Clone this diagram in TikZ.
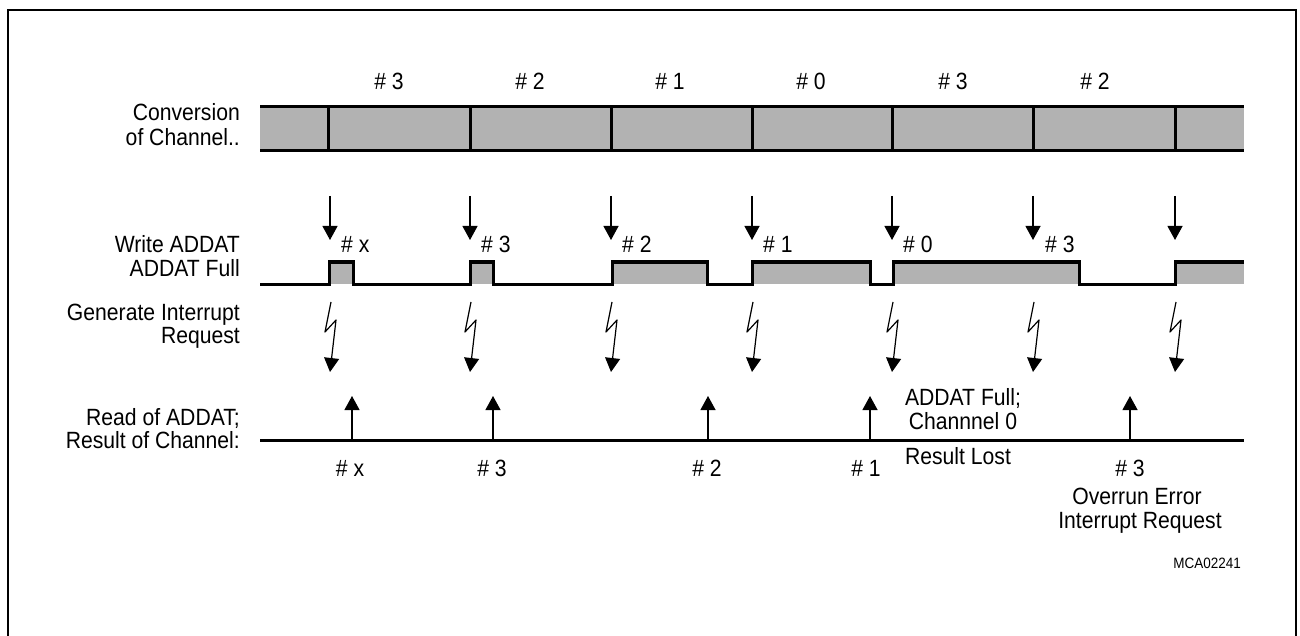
\documentclass[tikz,border=0pt]{standalone}
\usepackage{fontspec}
\setmainfont{Liberation Sans}[FakeStretch=0.9]
\usetikzlibrary{arrows.meta}
\definecolor{barfill}{gray}{0.7}
\tikzset{
  lbl/.style={font=\fontsize{23.5}{28}\selectfont, inner sep=0pt, anchor=base},
  side/.style={lbl, anchor=base east},
  heavy/.style={line width=3pt},
  arr/.style={line width=1.2pt, line join=round, -{Triangle[length=14pt,width=15pt]}},
}
\begin{document}
\begin{tikzpicture}[x=1pt,y=-1pt]
\useasboundingbox (0,0) rectangle (1300,636);
% frame
\draw[line width=2.5pt] (8,636) -- (8,10) -- (1296,10) -- (1296,636);

% side labels
\node[side] (l1) at (240,120.5) {Conversion};
\node[side] (l2) at (240,145.5) {of Channel..};
\node[side] (l3) at (240,252.5) {Write ADDAT};
\node[side] (l4) at (240,276.5) {ADDAT Full};
\node[side] (l5) at (240,320.5) {Generate Interrupt};
\node[side] (l6) at (240,343.5) {Request};
\node[side] (l7) at (240,425.5) {Read of ADDAT;};
\node[side] (l8) at (240,448) {Result of Channel:};

% conversion bar
\fill[barfill] (260,107) rectangle (1244,151);
\draw[heavy] (260,107) -- (1244,107) (260,151) -- (1244,151);
\foreach \x in {328,470,611,752,892,1033,1175}
  \draw[heavy] (\x,107) -- (\x,151);
\foreach \x/\t [count=\i] in {389/3,530/2,670/1,811/0,953/3,1095/2}
  \node[lbl] (c\i) at (\x,90) {\# \t};

% write arrows and lightning arrows
\foreach \x [count=\i] in {330,470,611,752,892,1033,1175}{
  \coordinate (wt\i) at (\x,196);
  \coordinate (wb\i) at (\x,240);
  \draw[arr] (wt\i) -- (wb\i);
  \coordinate (ia\i) at ({\x+1},302);
  \coordinate (ib\i) at ({\x-5},332);
  \coordinate (ic\i) at ({\x+6},320);
  \coordinate (id\i) at (\x,372);
  \draw[arr] (ia\i) -- (ib\i) -- (ic\i) -- (id\i);
}
\foreach \x/\t [count=\i] in {341/x,481/3,622/2,763/1,903/0,1045/3}
  \node[lbl, anchor=base west] (w\i) at (\x,252.5) {\# \t};

% ADDAT full signal
\foreach \a/\b in {329/353,470/493,612/707,752/870,893/1079,1175/1244}
  \fill[barfill] (\a,262) rectangle (\b,284);
\draw[heavy, line join=miter] (260,284) -- (329,284) -- (329,262) -- (353,262) -- (353,284)
  -- (470,284) -- (470,262) -- (493,262) -- (493,284)
  -- (612,284) -- (612,262) -- (707,262) -- (707,284)
  -- (752,284) -- (752,262) -- (870,262) -- (870,284)
  -- (893,284) -- (893,262) -- (1079,262) -- (1079,284)
  -- (1175,284) -- (1175,262) -- (1244,262);

% read line
\coordinate (rs) at (260,440);
\coordinate (re) at (1244,440);
\draw[heavy] (rs) -- (re);
\foreach \x/\t [count=\i] in {352/x,493/3,708/2,870/1,1130/3}{
  \coordinate (ra\i) at (\x,440);
  \coordinate (rb\i) at (\x,396);
  \draw[arr] (ra\i) -- (rb\i);
}
\foreach \x/\t [count=\i] in {350/x,492/3,707/2,866/1,1130/3}
  \node[lbl] (r\i) at (\x,476.5) {\# \t};

% annotations
\node[lbl] (n1) at (963,405) {ADDAT Full;};
\node[lbl] (n2) at (963,429) {Channnel 0};
\node[lbl] (n3) at (958,464) {Result Lost};
\node[lbl] (n4) at (1137,504.5) {Overrun Error};
\node[lbl] (n5) at (1140,528) {Interrupt Request};
\node[lbl, font=\fontsize{15}{17}\selectfont, anchor=base east] (n6) at (1241,568) {MCA02241};
\end{tikzpicture}
\end{document}
